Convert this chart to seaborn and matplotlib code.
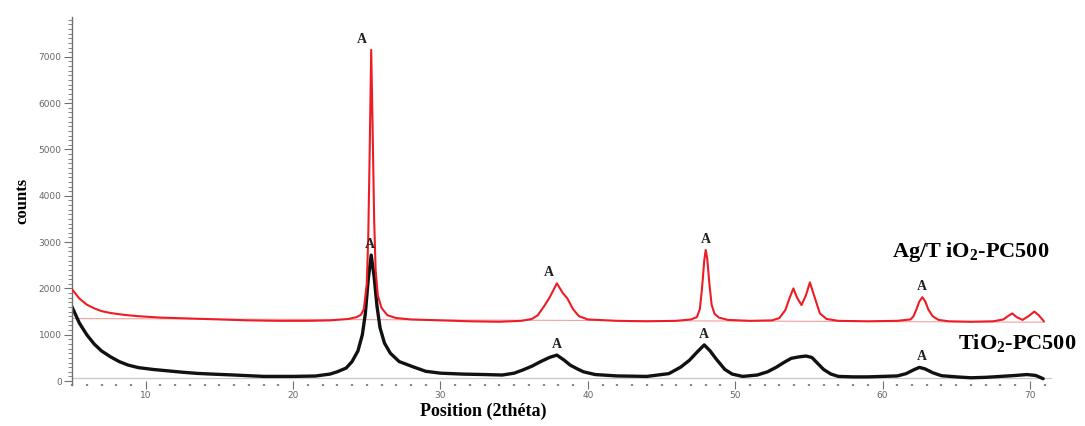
import matplotlib
matplotlib.use("Agg")
import matplotlib.pyplot as plt
from matplotlib.ticker import MultipleLocator
import pandas as pd
import seaborn as sns

# XRD pattern of bare TiO2-PC500 (2theta in degrees, intensity in counts)
tio2_theta = [5.0, 5.5, 6.0, 6.5, 7.0, 7.6, 8.2, 8.8, 9.5, 10.5, 11.5, 12.5, 13.5, 14.5,
              16.0, 18.0, 20.0, 21.5, 22.5, 23.0, 23.6, 24.0, 24.4, 24.7, 24.9, 25.1,
              25.3, 25.5, 25.7, 25.9, 26.2, 26.6, 27.2, 28.2, 29.0, 30.0, 31.5, 33.0,
              34.2, 35.0, 35.6, 36.2, 36.8, 37.4, 37.9, 38.4, 38.8, 39.3, 39.7, 40.5,
              42.0, 44.0, 45.5, 46.3, 46.9, 47.4, 47.9, 48.3, 48.7, 49.3, 49.8, 50.5,
              51.5, 52.2, 52.8, 53.3, 53.8, 54.3, 54.8, 55.2, 55.6, 56.0, 56.5, 57.0,
              58.0, 59.0, 60.0, 61.0, 61.6, 62.1, 62.5, 62.9, 63.4, 64.0, 65.0, 66.0,
              67.0, 68.0, 69.0, 69.8, 70.4, 70.9]
tio2_counts = [1600, 1250, 1000, 800, 650, 525, 420, 345, 290, 250, 220, 190, 165, 150,
               130, 100, 100, 108, 150, 200, 280, 420, 650, 1000, 1450, 2200,
               2720, 2250, 1600, 1150, 820, 600, 420, 300, 210, 170, 150, 140,
               130, 170, 240, 320, 420, 510, 560, 450, 345, 260, 200, 140,
               110, 100, 160, 300, 450, 620, 780, 650, 480, 250, 150, 100,
               130, 200, 300, 400, 490, 520, 540, 510, 380, 250, 150, 100,
               90, 90, 100, 110, 160, 240, 295, 260, 180, 115, 90, 70,
               80, 100, 120, 140, 120, 50]

# XRD pattern of Ag/TiO2-PC500
ag_theta = [5.0, 5.5, 6.0, 6.5, 7.0, 7.6, 8.5, 9.5, 11.0, 13.0, 15.0, 17.0, 19.0, 21.0,
            22.5, 23.75, 24.3, 24.6, 24.8, 25.0, 25.1, 25.2, 25.3, 25.4, 25.5, 25.6,
            25.75, 26.0, 26.4, 27.0, 28.0, 30.0, 32.0, 34.0, 35.5, 36.2, 36.6, 37.0,
            37.4, 37.9, 38.3, 38.6, 39.0, 39.4, 40.0, 42.0, 44.0, 46.0, 47.0, 47.4,
            47.6, 47.75, 47.9, 48.0, 48.1, 48.25, 48.4, 48.6, 48.9, 49.5, 51.0, 52.5,
            53.0, 53.4, 53.7, 53.95, 54.2, 54.5, 54.8, 55.07, 55.35, 55.75, 56.2, 57.0,
            59.0, 61.0, 61.9, 62.1, 62.3, 62.5, 62.7, 62.9, 63.1, 63.4, 63.8, 64.5,
            66.0, 67.5, 68.2, 68.5, 68.8, 69.1, 69.5, 69.9, 70.3, 70.6, 70.95]
ag_counts = [1980, 1780, 1650, 1570, 1510, 1470, 1430, 1400, 1370, 1350, 1330, 1310, 1300, 1300,
             1310, 1340, 1380, 1430, 1550, 2100, 3100, 5000, 7150, 5400, 3500, 2400,
             1850, 1580, 1420, 1360, 1330, 1310, 1290, 1280, 1300, 1340, 1420, 1600,
             1800, 2110, 1900, 1790, 1550, 1400, 1330, 1300, 1290, 1300, 1330, 1380,
             1550, 2000, 2600, 2830, 2650, 2100, 1650, 1450, 1370, 1320, 1300, 1310,
             1360, 1530, 1800, 2000, 1800, 1640, 1850, 2130, 1850, 1460, 1340, 1300,
             1290, 1300, 1330, 1400, 1550, 1720, 1810, 1720, 1550, 1400, 1320, 1290,
             1280, 1290, 1330, 1400, 1460, 1380, 1320, 1400, 1500, 1420, 1290]

# fitted backgrounds
ag_bg_theta = [5.0, 71.0]
ag_bg_counts = [1350, 1270]
tio2_bg_level = 60

# anatase reflections marked "A"
anatase_peaks = [25.3, 37.9, 48.0, 62.7]
ag_label_dx = [-7, -6, 0, 0]      # horizontal nudge of each label, points
tio2_label_dx = [-1, 0, -1, 0]

y_ticks = [0, 1000, 2000, 3000, 4000, 5000, 6000, 7000]
x_ticks = [10, 20, 30, 40, 50, 60, 70]

RED = "#ee1c24"
BLACK = "#111111"
GREY = "#707070"

sns.set_theme(style="white")
plt.rcParams["font.family"] = ["DejaVu Sans"]
plt.rcParams["mathtext.fontset"] = "custom"
plt.rcParams["mathtext.rm"] = "Liberation Serif:bold"
plt.rcParams["mathtext.bf"] = "Liberation Serif:bold"
plt.rcParams["mathtext.it"] = "Liberation Serif:bold"

fig = plt.figure(figsize=(10.85, 4.26), dpi=100)
ax = fig.add_axes([0.0664, 0.0962, 0.9032, 0.8638])

df_ag = pd.DataFrame({"theta": ag_theta, "counts": ag_counts})
df_ti = pd.DataFrame({"theta": tio2_theta, "counts": tio2_counts})

# backgrounds first, behind the patterns
ax.plot(ag_bg_theta, ag_bg_counts, color="#f4a0a0", lw=0.8, zorder=1)
ax.axhline(tio2_bg_level, color="#c8c8c8", lw=0.9, zorder=1)

sns.lineplot(data=df_ag, x="theta", y="counts", ax=ax, color=RED, lw=1.5,
             estimator=None, sort=False, zorder=3)
sns.lineplot(data=df_ti, x="theta", y="counts", ax=ax, color=BLACK, lw=2.4,
             estimator=None, sort=False, zorder=2)

serif = ["Liberation Serif", "DejaVu Serif"]
for pos, dx in zip(anatase_peaks, ag_label_dx):
    y = max(c for t, c in zip(ag_theta, ag_counts) if abs(t - pos) <= 0.15)
    ax.annotate("A", xy=(pos, y), xytext=(dx, 3), textcoords="offset points",
                ha="center", va="bottom", fontsize=10, fontweight="bold",
                family=serif, color="#222222")
for pos, dx in zip(anatase_peaks, tio2_label_dx):
    y = max(c for t, c in zip(tio2_theta, tio2_counts) if abs(t - pos) <= 0.3)
    ax.annotate("A", xy=(pos, y), xytext=(dx, 3), textcoords="offset points",
                ha="center", va="bottom", fontsize=10, fontweight="bold",
                family=serif, color="#222222")

ax.text(66.0, 2790, r"Ag/T iO$_2$-PC500", ha="center", va="center", fontsize=16,
        fontweight="bold", family=serif, color="black", clip_on=False)
ax.text(69.15, 820, r"TiO$_2$-PC500", ha="center", va="center", fontsize=16,
        fontweight="bold", family=serif, color="black", clip_on=False)

ax.set_xlim(5, 71.5)
ax.set_ylim(-86, 7860)

ax.set_xticks(x_ticks)
ax.set_xticklabels([str(v) for v in x_ticks])
ax.xaxis.set_minor_locator(MultipleLocator(1))
ax.set_yticks(y_ticks)
ax.set_yticklabels([str(v) for v in y_ticks])
ax.yaxis.set_minor_locator(MultipleLocator(100))

ax.tick_params(axis="x", which="major", bottom=True, direction="inout", length=6,
               width=0.8, color=GREY, labelsize=6.5, labelcolor="#666666", pad=1)
ax.tick_params(axis="x", which="minor", bottom=True, direction="inout", length=1.6,
               width=1.6, color="#888888")
ax.tick_params(axis="y", which="major", left=True, direction="out", length=6,
               width=0.8, color=GREY, labelsize=6.5, labelcolor="#666666", pad=1.5)
ax.tick_params(axis="y", which="minor", left=True, direction="out", length=3,
               width=0.6, color=GREY)

for side in ("top", "right", "bottom"):
    ax.spines[side].set_visible(False)
ax.spines["left"].set_color(GREY)
ax.spines["left"].set_linewidth(1.0)

ax.set_ylabel("counts", fontsize=12, fontweight="bold", family=serif, color="black")
ax.yaxis.set_label_coords(-0.043, 0.50)
ax.set_xlabel("Position (2théta)", fontsize=13, fontweight="bold", family=serif,
              color="black")
ax.xaxis.set_label_coords(0.42, -0.048)

fig.savefig("out.png", dpi=100)
